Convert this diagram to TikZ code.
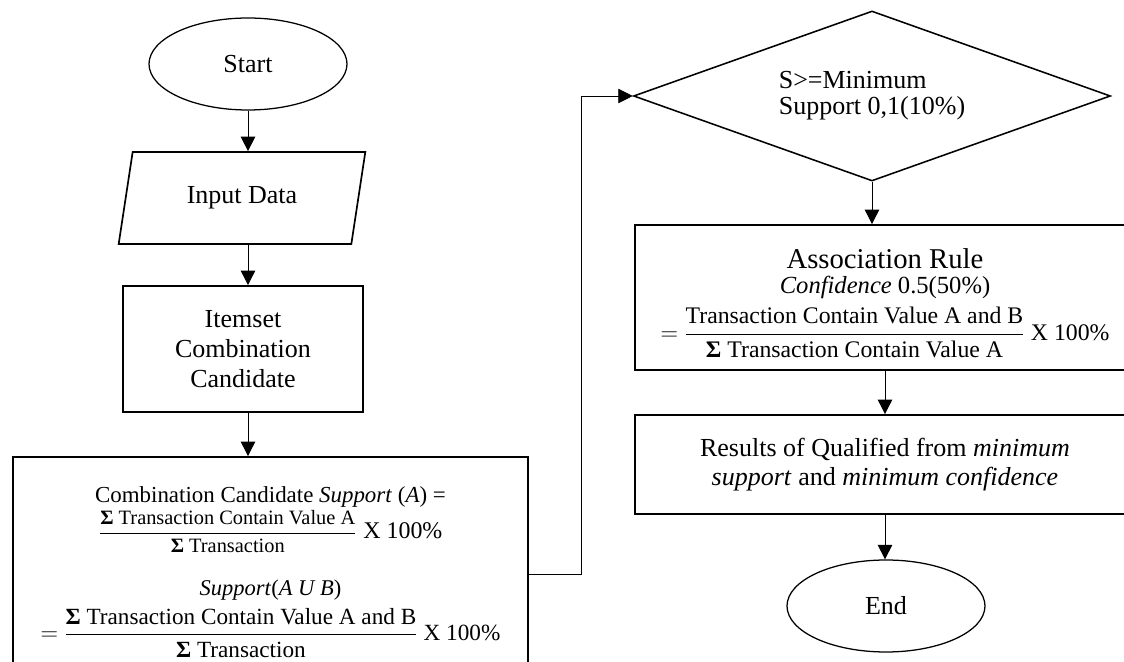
\documentclass[tikz,border=0pt]{standalone}
\usepackage{fontspec}
\usepackage{amsmath}
\usepackage{amssymb}
\setmainfont{Liberation Serif}
\usetikzlibrary{shapes.geometric, arrows.meta}

\newcommand{\sumbf}{\textbf{Σ}}
\newcommand{\ratio}[2]{$\genfrac{}{}{1pt}{0}{\mbox{#1}}{\mbox{#2}}$}

\begin{document}
\begin{tikzpicture}[>={Triangle[length=3.6mm, width=3.6mm]},
    font=\fontsize{18.5}{21.5}\selectfont,
    box/.style={draw, line width=1.3pt, rectangle, align=center},
    term/.style={draw, line width=0.9pt, ellipse, minimum width=4.95cm, minimum height=2.3cm},
    flow/.style={->, line width=0.7pt}]
    \useasboundingbox (0, 0) rectangle (28.1, -16.55);

    % Left column
    \node[term] (start) at (6.2, -1.6) {Start};
    \node[draw, line width=1.2pt, trapezium, trapezium left angle=76.5, trapezium right angle=103.5,
        trapezium stretches=true, minimum width=6.225cm, minimum height=2.3cm] (input) at (6.05, -4.95) {Input Data};
    \node[box, minimum width=6cm, minimum height=3.15cm] (item) at (6.075, -8.725) {Itemset\\Combination\\Candidate};
    \node[box, minimum width=12.875cm, minimum height=5.375cm] (supp) at (6.7625, -14.1125) {%
        {\fontsize{16.3}{19}\selectfont\rule{0pt}{22pt}Combination Candidate \textit{Support} (\textit{A}) =}\\[1.5pt]
        {\fontsize{14.5}{17}\selectfont\ratio{\sumbf{} Transaction Contain Value A}{\sumbf{} Transaction}}
        {\fontsize{17}{20}\selectfont X 100\%}\\[19pt]
        {\fontsize{16}{19}\selectfont\textit{Support}(\textit{A U B})}\\[4.5pt]
        {\fontsize{16.5}{19}\selectfont $=$ \ratio{\sumbf{} Transaction Contain Value A and B}{\sumbf{} Transaction}
        X 100\%}};

    % Right column
    \node[draw, line width=1.1pt, diamond, aspect=2.8, inner sep=0pt, minimum width=11.925cm, minimum height=4.25cm,
        align=left, font=\fontsize{18.5}{18.5}\selectfont] (dec) at (21.8, -2.4) {S>=Minimum\\Support 0,1(10\%)};
    \node[box, minimum width=12.5cm, minimum height=3.625cm] (assoc) at (22.125, -7.4375) {%
        {\fontsize{20.4}{23}\selectfont\rule{0pt}{22pt}Association Rule}\\[-4pt]
        {\fontsize{17.5}{20}\selectfont\textit{Confidence} 0.5(50\%)}\\[5.5pt]
        {\fontsize{16.9}{19}\selectfont $=$ \ratio{Transaction Contain Value A and B}{\sumbf{} Transaction Contain Value A}
        X 100\%}};
    \node[box, minimum width=12.5cm, minimum height=2.475cm, font=\fontsize{18.5}{20.5}\selectfont] (res) at (22.125, -11.6125)
        {Results of Qualified from \textit{minimum}\\\textit{support} and \textit{minimum confidence}};
    \node[term] (end) at (22.15, -15.15) {End};
    \coordinate (bend) at (14.525, -14.35);

    % Connectors
    \draw[flow] (start.south) -- (start.south |- input.north);
    \draw[flow] (start.south |- input.south) -- (start.south |- item.north);
    \draw[flow] (start.south |- item.south) -- (start.south |- supp.north);
    \draw[flow, line width=0.5pt] (supp.east |- bend) -- (bend) |- (dec.west);
    \draw[flow] (dec.south) -- (dec.south |- assoc.north);
    \draw[flow] (assoc.south) -- (res.north);
    \draw[flow] (res.south) -- (res.south |- end.north);
\end{tikzpicture}
\end{document}
